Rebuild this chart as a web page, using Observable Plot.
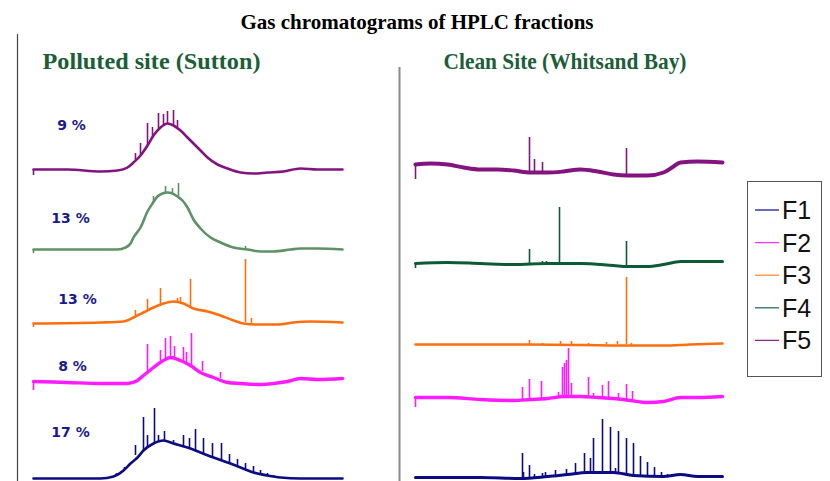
<!DOCTYPE html>
<html><head><meta charset="utf-8">
<script src="https://cdn.jsdelivr.net/npm/d3@7"></script>
<script src="https://cdn.jsdelivr.net/npm/@observablehq/plot@0.6"></script>
<style>
body{margin:0;background:#fff;width:830px;height:481px;position:relative;overflow:hidden}
#title{height:24px;padding-top:10px;line-height:20px;text-align:center;font:bold 21px "Liberation Serif","Times New Roman",serif;color:#000;padding-left:4px}
#chart svg{display:block}
#legend{position:absolute;left:747px;top:181px;width:75px;height:196px;border:1px solid #555;box-sizing:border-box;background:#fff}
</style></head>
<body>
<div id="title">Gas chromatograms of HPLC fractions</div>
<div id="chart"></div>
<div id="legend"></div>
<script>
// ---------- data ----------
const sites = ["Polluted site (Sutton)", "Clean Site (Whitsand Bay)"];
const fractions = ["F1", "F2", "F3", "F4", "F5"];
const pollutedShares = ["17 %", "8 %", "13 %", "13 %", "9 %"]; // F1..F5
const pollutedOffsets = [3, 100, 159, 232, 312];   // stacking offset, F1..F5
const cleanOffsets = [4, 84, 137, 218, 317];        // stacking offset, F1..F5

// traces: [retention, response]
const pollutedF5 = [[0,0],[34,0],[67,-2],[84,-1],[94,2],[100,7],[107,14],[114,24],[120,34],[127,42],[134,46],[140,44],[147,39],[154,32],[160,26],[167,19],[174,12],[184,5],[194,1],[207,-3],[220,-4],[234,-3],[250,-2],[267,1],[284,0],[309,0]];
const pollutedF4 = [[0,0],[84,0],[92,2],[97,6],[100,12],[107,22],[114,38],[119,46],[124,53],[129,56],[134,57],[139,56],[144,53],[149,49],[154,42],[160,30],[167,21],[177,12],[187,7],[200,2],[214,0],[227,-2],[240,-2],[257,0],[267,1],[284,1],[309,0]];
const pollutedF3 = [[0,-1],[67,0],[90,1],[100,5],[110,10],[120,15],[130,19],[140,21],[150,19],[160,14],[174,11],[187,7],[200,2],[210,-1],[224,-2],[244,-2],[260,0],[277,1],[309,0]];
const pollutedF2 = [[0,0],[34,-1],[67,-2],[94,-2],[104,1],[110,6],[120,14],[130,21],[137,24],[147,21],[157,16],[167,9],[180,4],[194,-1],[207,-2],[227,-3],[240,-2],[254,0],[267,3],[284,2],[309,3]];
const pollutedF1 = [[0,0],[67,0],[80,2],[90,8],[97,15],[104,21],[110,28],[120,35],[130,38],[140,35],[154,31],[167,26],[180,21],[194,16],[207,11],[220,6],[234,3],[247,1],[267,0],[309,0]];
const cleanF5 = [[0,0],[15,1],[32,0],[48,-3],[65,-5],[82,-5],[98,-6],[115,-8],[132,-8],[148,-7],[165,-5],[182,-7],[198,-10],[212,-11],[232,-11],[248,-8],[258,-2],[265,2],[282,3],[307,2]];
const cleanF4 = [[0,0],[32,1],[65,0],[98,-1],[132,0],[165,0],[198,-2],[212,-3],[232,-3],[248,-1],[265,2],[282,2],[307,2]];
const cleanF3 = [[0,0],[115,0],[218,-1],[248,-1],[275,0],[307,1]];
const cleanF2 = [[0,0],[32,0],[65,-2],[98,-3],[115,-2],[132,-1],[148,1],[165,1],[182,0],[198,-1],[215,-3],[232,-5],[248,-4],[265,0],[282,0],[307,1]];
const cleanF1 = [[0,0],[65,0],[105,-1],[132,1],[152,3],[172,5],[185,5],[198,5],[218,2],[248,1],[265,3],[282,1],[307,1]];

// peaks: [retention, foot response, apex response]
const pollutedF5Peaks = [[0,0,-6],[102,9,16],[107,14,26],[114,24,46],[119,31,42],[125,39,56],[130,43,55],[134,45,58],[140,44,59],[144,42,49]];
const pollutedF4Peaks = [[0,0,-4],[120,47,53],[132,56,63],[139,56,61],[145,53,66],[212,-1,3]];
const pollutedF3Peaks = [[0,-1,-5],[102,5,12],[114,11,23],[127,16,34],[144,20,24],[147,20,25],[157,16,43],[212,0,63],[218,-1,4]];
const pollutedF2Peaks = [[0,0,-9],[114,9,37],[127,19,31],[132,21,43],[137,24,45],[141,23,35],[150,19,34],[153,18,29],[158,16,48],[169,10,20],[187,3,9]];
const pollutedF1Peaks = [[83,2,5],[91,9,11],[102,23,33],[110,28,61],[114,31,43],[121,35,70],[125,37,43],[131,38,47],[140,35,38],[150,32,43],[156,30,40],[162,28,49],[170,25,40],[179,21,35],[188,18,35],[196,15,24],[204,12,19],[212,8,15],[220,6,12],[227,4,8],[234,3,5],[240,2,3]];
const cleanF5Peaks = [[0,0,-15],[114,-8,27],[119,-8,5],[127,-7,2],[211,-11,16]];
const cleanF4Peaks = [[0,0,-5],[114,-1,14],[127,0,2],[131,0,2],[144,0,56],[211,-3,22]];
const cleanF3Peaks = [[114,0,4],[127,0,1],[145,0,3],[156,0,3],[173,0,1],[191,0,2],[202,0,3],[211,0,67],[216,-1,1]];
const cleanF2Peaks = [[0,0,-10],[107,-2,10],[114,-2,18],[126,-2,16],[143,0,5],[147,1,30],[149,1,34],[151,1,37],[153,1,49],[156,1,14],[173,1,20],[178,1,4],[187,0,12],[193,0,16],[203,-1,4],[211,-2,13],[217,-3,6]];
const cleanF1Peaks = [[107,-1,24],[108,-1,5],[114,-1,12],[119,0,3],[127,0,4],[130,1,5],[140,2,7],[151,3,8],[160,4,14],[169,5,24],[175,5,19],[178,5,39],[187,5,58],[195,5,50],[200,5,9],[203,4,46],[211,3,39],[218,2,34],[225,2,21],[232,1,15],[239,1,10],[246,1,5],[252,1,3]];

// ---------- styles ----------
const pollutedColors = {F1:"#0b0b82", F2:"#ff1aff", F3:"#ff6e0e", F4:"#5f9166", F5:"#83137f"};
const cleanColors    = {F1:"#0b0b82", F2:"#ff1aff", F3:"#ff6e0e", F4:"#0c5a36", F5:"#83137f"};
const pollutedWidths = {F1:2.6, F2:3.4, F3:2.6, F4:2.6, F5:2.6};
const cleanWidths    = {F1:3, F2:3.4, F3:2.6, F4:3, F5:4};
const legendColors = {F1:"#1a1a9a", F2:"#ff33ff", F3:"#ff8c3a", F4:"#2a6e50", F5:"#8b2a8b"};
const labelPos = {F1:[37,46], F2:[39,15], F3:[44,23], F4:[37,31], F5:[38,44]};

const tracePts = {
  [sites[0]]: {F1:pollutedF1, F2:pollutedF2, F3:pollutedF3, F4:pollutedF4, F5:pollutedF5},
  [sites[1]]: {F1:cleanF1, F2:cleanF2, F3:cleanF3, F4:cleanF4, F5:cleanF5}
};
const tracePeaks = {
  [sites[0]]: {F1:pollutedF1Peaks, F2:pollutedF2Peaks, F3:pollutedF3Peaks, F4:pollutedF4Peaks, F5:pollutedF5Peaks},
  [sites[1]]: {F1:cleanF1Peaks, F2:cleanF2Peaks, F3:cleanF3Peaks, F4:cleanF4Peaks, F5:cleanF5Peaks}
};
const offsets = {[sites[0]]: pollutedOffsets, [sites[1]]: cleanOffsets};
const colors = {[sites[0]]: pollutedColors, [sites[1]]: cleanColors};
const widths = {[sites[0]]: pollutedWidths, [sites[1]]: cleanWidths};

const marks = [];
for (const site of sites) {
  fractions.forEach((f, i) => {
    const off = offsets[site][i];
    const rows = tracePts[site][f].map(([t, s]) => ({site, t, y: off + s}));
    const peaks = tracePeaks[site][f].map(([t, a, b]) => ({site, t, y1: off + a, y2: off + b}));
    marks.push(Plot.line(rows, {x: "t", y: "y", fx: "site", stroke: colors[site][f], strokeWidth: widths[site][f], curve: "monotone-x", strokeLinejoin: "round"}));
    marks.push(Plot.ruleX(peaks, {x: "t", y1: "y1", y2: "y2", fx: "site", stroke: colors[site][f], strokeWidth: 1.6}));
  });
}
// share labels (polluted panel)
const labelRows = fractions.map((f, i) => ({site: sites[0], label: pollutedShares[i], t: labelPos[f][0], y: pollutedOffsets[i] + labelPos[f][1]}));
marks.push(Plot.text(labelRows, {x: "t", y: "y", text: "label", fx: "site", fontSize: 14, fontWeight: "bold", fontFamily: "DejaVu Sans, Verdana, sans-serif", fill: "#1a1a8f"}));
// separators
marks.push(Plot.ruleX([{site: sites[0], top: 447}], {x: () => -16, y1: () => 0, y2: "top", fx: "site", stroke: "#444", strokeWidth: 1.2}));
marks.push(Plot.ruleX([{site: sites[1], top: 414}], {x: () => -16, y1: () => 0, y2: "top", fx: "site", stroke: "#8a8a8a", strokeWidth: 2}));
// panel subtitles
marks.push(Plot.text([sites[0]], {fx: d => d, text: d => d, frameAnchor: "top-left", dx: 9, dy: 34, lineAnchor: "bottom", fontSize: 23, fontWeight: "bold", fontFamily: "Liberation Serif, Times New Roman, serif", fill: "#1b5e37"}));
marks.push(Plot.text([sites[1]], {fx: d => d, text: d => d, frameAnchor: "top-left", dx: 28, dy: 34, lineAnchor: "bottom", fontSize: 23, fontWeight: "bold", fontFamily: "Liberation Serif, Times New Roman, serif", fill: "#1b5e37"}));

const chart = Plot.plot({
  width: 830, height: 447,
  marginLeft: 33, marginRight: 106, marginTop: 0, marginBottom: 0,
  x: {domain: [0, 309], axis: null},
  y: {domain: [0, 447], axis: null},
  fx: {domain: sites, paddingInner: 0.1911, paddingOuter: 0, axis: null},
  style: {background: "transparent", overflow: "visible"},
  marks
});
document.getElementById("chart").appendChild(chart);

// fit subtitle widths
const targetLen = {[sites[0]]: 218, [sites[1]]: 243};
d3.select(chart).selectAll("text").each(function() {
  const s = this.textContent;
  if (targetLen[s]) { this.setAttribute("textLength", targetLen[s]); this.setAttribute("lengthAdjust", "spacingAndGlyphs"); }
});

// legend
const lg = d3.select("#legend").append("svg").attr("width", 73).attr("height", 194);
fractions.forEach((f, i) => {
  const cy = 28 + i * 32.6;
  lg.append("line").attr("x1", 7).attr("x2", 31).attr("y1", cy).attr("y2", cy).attr("stroke", legendColors[f]).attr("stroke-width", 1.3);
  lg.append("text").attr("x", 34).attr("y", cy + 9).text(f)
    .attr("font-family", "Liberation Sans, Arial, sans-serif").attr("font-size", 25).attr("fill", "#111");
});
</script>
</body></html>
